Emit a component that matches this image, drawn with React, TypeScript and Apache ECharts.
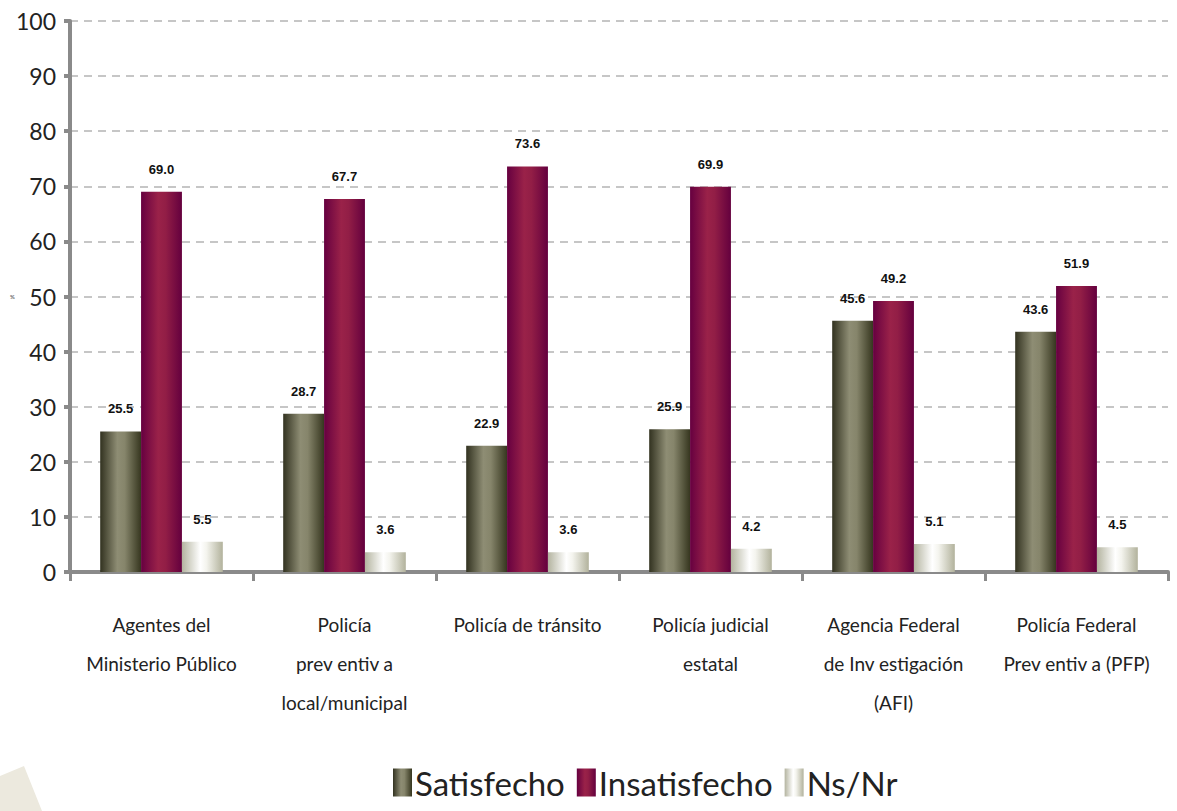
import React, { useEffect, useRef } from "react";
import * as echarts from "echarts";

const categories = [
  "Agentes del\nMinisterio Público",
  "Policía\nprev entiv a\nlocal/municipal",
  "Policía de tránsito",
  "Policía judicial\nestatal",
  "Agencia Federal\nde Inv estigación\n(AFI)",
  "Policía Federal\nPrev entiv a (PFP)",
];
const satisfecho = [25.5, 28.7, 22.9, 25.9, 45.6, 43.6];
const insatisfecho = [69.0, 67.7, 73.6, 69.9, 49.2, 51.9];
const nsnr = [5.5, 3.6, 3.6, 4.2, 5.1, 4.5];
const seriesNames = ["Satisfecho", "Insatisfecho", "Ns/Nr"];

const grad = (stops: [number, string][]) =>
  new echarts.graphic.LinearGradient(
    0,
    0,
    1,
    0,
    stops.map(([offset, color]) => ({ offset, color }))
  );

const FONT = "Lato, 'Noto Sans', sans-serif";

export default function App() {
  const ref = useRef<HTMLDivElement>(null);
  useEffect(() => {
    if (!ref.current) return;
    const chart = echarts.init(ref.current, undefined, { renderer: "svg" });
    const label = {
      show: true,
      position: "top" as const,
      distance: 16,
      fontSize: 13,
      fontWeight: "bold" as const,
      fontFamily: "'Liberation Sans', Arial, sans-serif",
      color: "#111",
      formatter: (p: any) => Number(p.value).toFixed(1),
    };
    const colors = [
      grad([
        [0, "#323220"],
        [0.42, "#8e8d74"],
        [0.6, "#86856b"],
        [1, "#36361f"],
      ]),
      grad([
        [0, "#660040"],
        [0.42, "#9a2249"],
        [0.6, "#921e46"],
        [1, "#64003e"],
      ]),
      grad([
        [0, "#b4b4a0"],
        [0.45, "#ffffff"],
        [0.6, "#f4f4ee"],
        [1, "#b2b29c"],
      ]),
    ];
    const datas = [satisfecho, insatisfecho, nsnr];
    chart.setOption({
      animation: false,
      backgroundColor: "#ffffff",
      grid: { left: 70, right: 9, top: 21, bottom: 239, containLabel: false },
      legend: {
        bottom: 7,
        left: 388,
        itemWidth: 19,
        itemHeight: 28,
        itemGap: 12,
        icon: "rect",
        textStyle: { fontSize: 33, fontFamily: FONT, color: "#222", padding: [0, 0, 0, -2] },
        data: seriesNames,
      },
      graphic: [
        {
          type: "polygon",
          shape: {
            points: [
              [0, 776],
              [24, 766],
              [42, 811],
              [0, 811],
            ],
          },
          style: { fill: "#ece9de" },
          silent: true,
        },
        {
          type: "text",
          x: 10,
          y: 293,
          style: { text: "%", fontSize: 6, fill: "#333", fontFamily: FONT },
        },
      ],
      xAxis: {
        type: "category",
        data: categories,
        axisLine: { lineStyle: { color: "#8a8a8a", width: 4 } },
        axisTick: { show: true, alignWithLabel: false, length: 9, lineStyle: { color: "#8a8a8a", width: 3 } },
        axisLabel: {
          interval: 0,
          margin: 33,
          fontSize: 19,
          lineHeight: 39,
          fontFamily: FONT,
          color: "#222",
        },
      },
      yAxis: {
        type: "value",
        min: 0,
        max: 100,
        interval: 10,
        axisLine: { show: true, lineStyle: { color: "#8a8a8a", width: 4 } },
        axisTick: { show: true, inside: false, length: 6, lineStyle: { color: "#8a8a8a", width: 4 } },
        splitLine: { lineStyle: { color: "#c6c6c6", width: 2, type: [8, 6] } },
        axisLabel: { fontSize: 23, margin: 14, fontFamily: FONT, color: "#222" },
      },
      series: seriesNames.map((name, i) => ({
        name,
        type: "bar",
        data: datas[i],
        barGap: "0%",
        barCategoryGap: "33%",
        itemStyle: { color: colors[i] },
        label,
      })),
    });
    return () => chart.dispose();
  }, []);
  return (
    <div
      ref={ref}
      style={{ position: "fixed", left: 0, top: 0, width: 1177, height: 811 }}
    />
  );
}
